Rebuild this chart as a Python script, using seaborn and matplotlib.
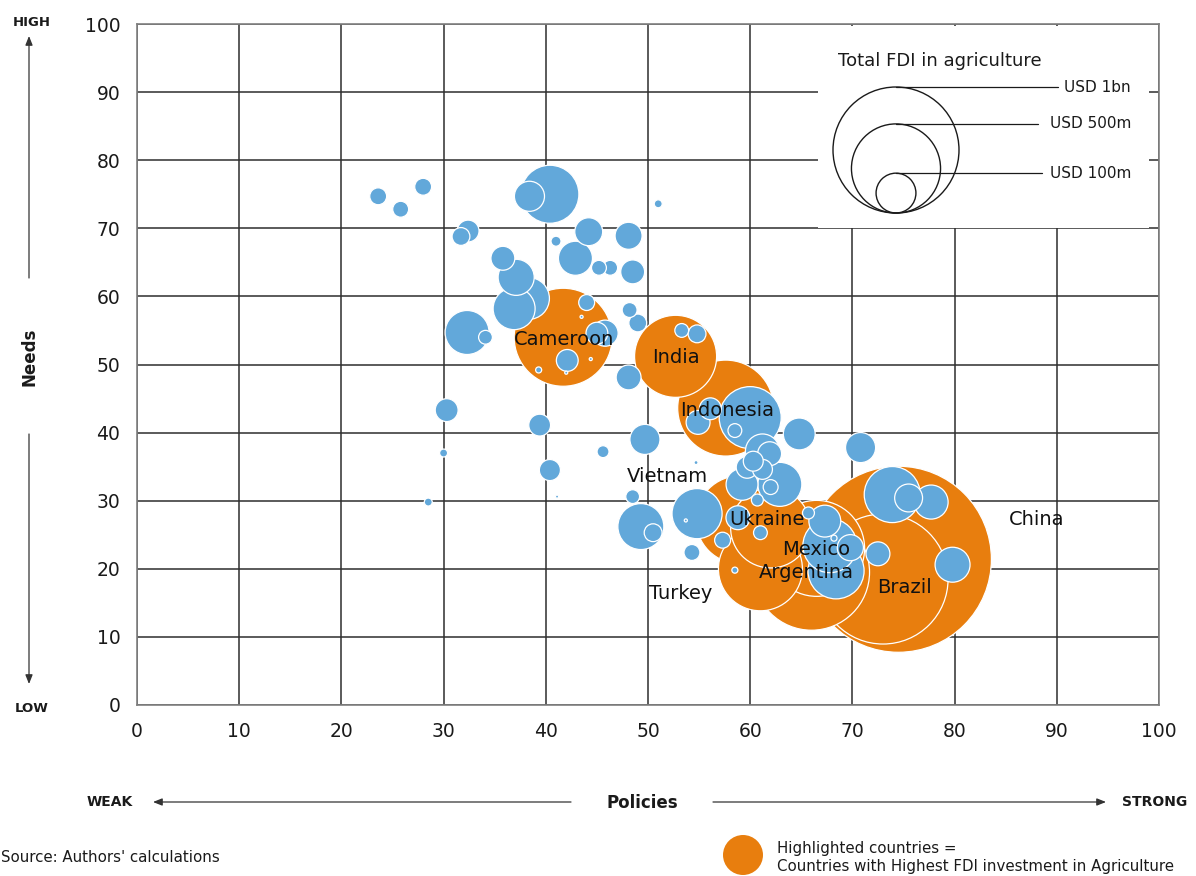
import numpy as np
import pandas as pd
import matplotlib
matplotlib.use("Agg")
import matplotlib.pyplot as plt
from matplotlib.patches import Circle, Rectangle
import seaborn as sns

# ---------------- data ----------------
# Countries with the highest FDI in agriculture (USD m)
hl_names = ["Cameroon", "India", "Indonesia", "Vietnam", "Ukraine",
            "Mexico", "Argentina", "Turkey", "Brazil", "China"]
hl_policies = [41.7, 52.7, 57.6, 59.0, 62.0, 66.5, 66.0, 61.0, 73.0, 74.5]
hl_needs = [54.0, 51.2, 43.6, 27.2, 26.0, 23.0, 19.5, 20.0, 18.5, 21.4]
hl_fdi = [605, 424, 580, 488, 403, 580, 848, 444, 1065, 2180]

# Label anchor positions (policies, needs)
label_x = [41.8, 52.7, 57.7, 51.9, 61.6, 66.5, 65.5, 53.2, 75.1, 88.0]
label_y = [53.7, 51.0, 43.3, 33.5, 27.2, 22.9, 19.4, 16.3, 17.2, 27.3]

# All other countries
other_policies = [23.6, 25.8, 28.0, 40.4, 38.4, 32.4, 31.7, 35.8, 37.1, 36.9,
                  38.3, 32.3, 34.1, 41.0, 42.9, 44.2, 48.1, 45.2, 46.3, 48.5,
                  44.0, 48.2, 49.0, 45.8, 45.0, 42.1, 39.3, 48.1, 51.0, 53.3,
                  54.8, 60.0, 54.9, 56.1, 58.5, 64.8, 49.7, 45.6, 30.3, 39.4,
                  30.0, 40.4, 54.7, 41.1, 28.5, 48.5, 49.3, 50.5, 54.8, 54.3,
                  57.3, 58.5, 61.0, 58.8, 65.7, 67.3, 67.8, 68.4, 69.8, 72.5,
                  79.8, 73.9, 75.5, 77.7, 70.8, 61.2, 61.9, 60.3, 59.7, 61.2,
                  62.9, 62.0, 59.2, 60.7, 43.5, 44.4, 42.0, 53.7, 68.2]
other_needs = [74.7, 72.8, 76.1, 75.0, 74.7, 69.6, 68.8, 65.6, 62.8, 58.2,
               59.7, 54.7, 54.0, 68.1, 65.6, 69.5, 68.9, 64.2, 64.2, 63.6,
               59.1, 58.0, 56.1, 54.6, 54.6, 50.6, 49.2, 48.1, 73.6, 55.0,
               54.5, 42.2, 41.5, 43.5, 40.3, 39.8, 39.0, 37.2, 43.3, 41.1,
               37.0, 34.5, 35.6, 30.6, 29.8, 30.6, 26.2, 25.3, 28.1, 22.4,
               24.2, 19.8, 25.3, 27.5, 28.2, 27.0, 23.4, 19.7, 23.1, 22.2,
               20.6, 30.9, 30.4, 29.8, 37.8, 37.3, 36.9, 35.8, 34.9, 34.6,
               32.4, 32.0, 32.4, 30.1, 57.0, 50.8, 48.8, 27.1, 24.5]
other_fdi = [18, 16, 18, 212, 57, 30, 20, 36, 82, 111,
             111, 122, 12, 6.3, 73, 49, 46, 14, 14, 36,
             16, 14, 20, 43, 30, 30, 2.3, 39, 4, 12,
             20, 242, 36, 30, 12, 64, 57, 9, 33, 30,
             4, 28, 1, 0.6, 4, 12, 133, 20, 158, 16,
             16, 2.3, 12, 36, 9, 64, 184, 198, 43, 36,
             77, 198, 49, 73, 57, 73, 36, 25, 30, 25,
             122, 14, 64, 9, 0.6, 0.6, 0.6, 0.6, 2.3]

legend_values = [1000, 500, 100]
legend_labels = ["USD 1bn", "USD 500m", "USD 100m"]

# ---------------- style ----------------
W, H, DPI = 1196, 876, 100
BLUE = "#62A8DA"
ORANGE = "#E87E0E"
R_1BN_PX = 63.0                      # radius of a USD 1bn bubble in pixels
PT_PER_PX = 72.0 / DPI


def radius_px(v):
    return R_1BN_PX * np.sqrt(v / 1000.0)


def area_pt2(v):
    return (2 * radius_px(v) * PT_PER_PX) ** 2


def px(x, y_top):
    """pixel position (origin top-left) -> inches for dpi_scale_trans"""
    return x / DPI, (H - y_top) / DPI


sns.set_theme(style="white")
plt.rcParams["font.family"] = ["DejaVu Sans"]

df = pd.concat([
    pd.DataFrame({"policies": other_policies, "needs": other_needs,
                  "fdi": other_fdi, "group": "other"}),
    pd.DataFrame({"policies": hl_policies, "needs": hl_needs,
                  "fdi": hl_fdi, "group": "highlight"}),
], ignore_index=True)
# big bubbles first so small ones stay visible on top
df = df.sort_values("fdi", ascending=False).reset_index(drop=True)

fig = plt.figure(figsize=(W / DPI, H / DPI), dpi=DPI)
ax = fig.add_axes([137 / W, (H - 705) / H, (1159 - 137) / W, (705 - 24) / H])

vmax = df["fdi"].max()
sns.scatterplot(data=df, x="policies", y="needs", hue="group", size="fdi",
                size_norm=(0, vmax), sizes=(0, area_pt2(vmax)),
                palette={"other": BLUE, "highlight": ORANGE},
                edgecolor="white", linewidth=0.9, alpha=1.0,
                legend=False, ax=ax, zorder=3)

ax.set_xlim(0, 100)
ax.set_ylim(0, 100)
ax.set_xticks(range(0, 101, 10))
ax.set_yticks(range(0, 101, 10))
ax.set_xlabel("")
ax.set_ylabel("")
ax.set_axisbelow(True)
ax.grid(True, color="#2e2e2e", linewidth=1.1)
for s in ax.spines.values():
    s.set_visible(True)
    s.set_color("#808080")
    s.set_linewidth(1.2)
ax.tick_params(axis="both", direction="out", length=5, width=1.1,
               color="#808080", labelsize=13.5, labelcolor="#1a1a1a", pad=7)

for name, lx, ly in zip(hl_names, label_x, label_y):
    ax.text(lx, ly, name, ha="center", va="center", fontsize=14,
            color="#111111", zorder=5)

# ---------------- size legend ----------------
T = fig.dpi_scale_trans
fig.add_artist(Rectangle(px(818, 228), 331 / DPI, 202 / DPI, transform=T,
                         facecolor="white", edgecolor="none", zorder=2))
fig.text(*px(838, 61), "Total FDI in agriculture", transform=T,
         fontsize=13, color="#1a1a1a", ha="left", va="center", zorder=4)
cx, bottom = 896, 213
line_end = [1058, 1038, 1042]
for v, lab, le in zip(legend_values, legend_labels, line_end):
    r = radius_px(v)
    fig.add_artist(Circle(px(cx, bottom - r), r / DPI, transform=T,
                          facecolor="none", edgecolor="#1a1a1a",
                          linewidth=1.0, zorder=4))
    top = bottom - 2 * r
    fig.add_artist(plt.Line2D([cx / DPI, le / DPI],
                              [(H - top) / DPI, (H - top) / DPI],
                              transform=T, color="#1a1a1a", linewidth=0.9,
                              zorder=4))
    fig.text(*px(1131, top), lab, transform=T, fontsize=11,
             color="#1a1a1a", ha="right", va="center", zorder=4)

# ---------------- axis annotations ----------------
bold = dict(fontweight="bold", color="#1a1a1a", transform=T,
            ha="center", va="center")
fig.text(*px(32, 22), "HIGH", fontsize=9.5, **bold)
fig.text(*px(32, 709), "LOW", fontsize=9.5, **bold)
fig.text(*px(30, 357), "Needs", fontsize=12, rotation=90, **bold)
fig.text(*px(110, 802), "WEAK", fontsize=10, **bold)
fig.text(*px(642, 803), "Policies", fontsize=12, **bold)
fig.text(*px(1155, 802), "STRONG", fontsize=10, **bold)

arrow_kw = dict(arrowstyle="-|>,head_length=0.45,head_width=0.18",
                color="#333333", linewidth=0.9, shrinkA=0, shrinkB=0)
for (x0, y0), (x1, y1) in [((29, 278), (29, 36)), ((29, 434), (29, 684)),
                           ((571, 802), (153, 802)), ((713, 802), (1106, 802))]:
    ax.annotate("", xy=px(x1, y1), xytext=px(x0, y0),
                xycoords=T, textcoords=T, arrowprops=arrow_kw,
                annotation_clip=False)

fig.text(*px(1, 857), "Source: Authors' calculations", transform=T,
         fontsize=10.8, color="#1a1a1a", ha="left", va="center")

fig.add_artist(Circle(px(743, 855), 20 / DPI, transform=T,
                      facecolor=ORANGE, edgecolor="none"))
fig.text(*px(777, 848), "Highlighted countries =", transform=T,
         fontsize=10.8, color="#1a1a1a", ha="left", va="center")
fig.text(*px(777, 866), "Countries with Highest FDI investment in Agriculture",
         transform=T, fontsize=10.8, color="#1a1a1a", ha="left", va="center")

fig.savefig("out.png", dpi=DPI, facecolor="white")
